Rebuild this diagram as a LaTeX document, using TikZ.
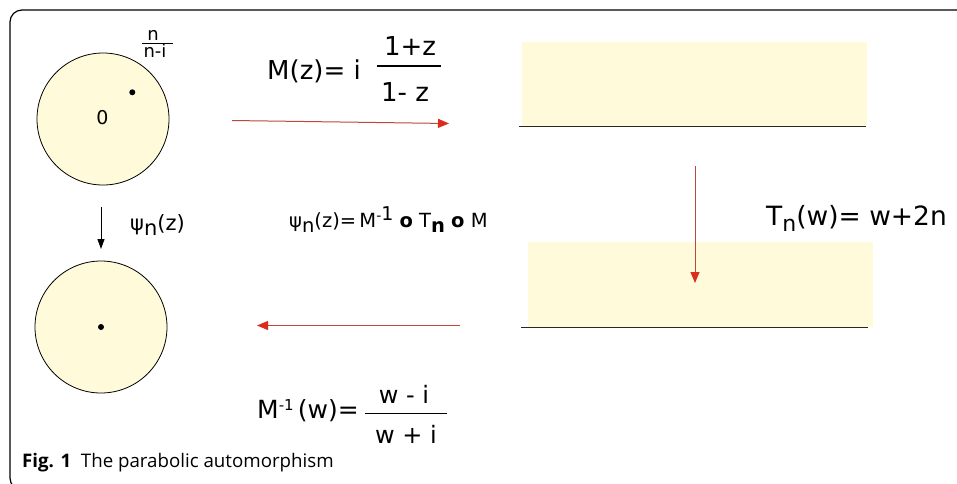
\documentclass[tikz,border=0pt]{standalone}
\usepackage{fontspec}
\setmainfont{DejaVu Sans}
\newfontfamily\capfont{Open Sans}
\usetikzlibrary{arrows.meta}
\definecolor{diskfill}{RGB}{254,250,218}
\definecolor{arrred}{RGB}{190,72,60}
\definecolor{headred}{RGB}{218,45,30}
\tikzset{
  disk/.style={circle, draw=black, line width=0.8pt, fill=diskfill, minimum size=132pt, inner sep=0pt},
  dotmark/.style={circle, fill=black, minimum size=6pt, inner sep=0pt},
  strip/.style={fill=diskfill, draw=none},
  edgeline/.style={line width=1.3pt, draw=black!85},
  redarrow/.style={draw=arrred, line width=1pt, -{Triangle[length=11pt,width=9pt,color=headred,fill=headred]}},
  blackarrow/.style={draw=black, line width=1pt, -{Triangle[length=10pt,width=7pt]}},
  txt/.style={inner sep=0pt, anchor=base west},
  ctxt/.style={inner sep=0pt, anchor=base},
}
\begin{document}
\begin{tikzpicture}[x=1pt,y=-1pt]
\useasboundingbox (0,0) rectangle (957,483);
\fill[white] (0,0) rectangle (957,483);
% frame
\draw[line width=1.2pt, rounded corners=12pt] (980,10) -- (10,10) -- (10,490) -- (980,490);

% disks
\node[disk] (d1) at (103,119) {};
\node[disk] (d2) at (101,327) {};
\node[dotmark] (p1) at (132.3,92.3) {};
\node[dotmark] (p2) at (101,327) {};
\node[ctxt] (zero) at (102.5,124.5) {\fontsize{19}{22}\selectfont 0};

% n/(n-i)
\node[ctxt] (fn) at (153,40) {\fontsize{18}{20}\selectfont n};
\node[ctxt] (fd) at (155,57) {\fontsize{18}{20}\selectfont n-i};
\coordinate (fb1) at (142,43.5);
\coordinate (fb2) at (173,43.5);
\draw[line width=0.7pt] (fb1) -- (fb2);

% strips
\fill[strip] (522,42) rectangle (867,126);
\coordinate (l1a) at (519,126.5);
\coordinate (l1b) at (866,126.5);
\draw[edgeline] (l1a) -- (l1b);
\fill[strip] (528,242) rectangle (873,327);
\coordinate (l2a) at (521,327.5);
\coordinate (l2b) at (868,327.5);
\draw[edgeline] (l2a) -- (l2b);

% arrows
\coordinate (a1s) at (232,120.5);
\coordinate (a1e) at (449,123.5);
\draw[redarrow] (a1s) -- (a1e);
\coordinate (a2s) at (695,166);
\coordinate (a2e) at (695,283);
\draw[redarrow] (a2s) -- (a2e);
\coordinate (a3s) at (460,325.5);
\coordinate (a3e) at (257,325.5);
\draw[redarrow] (a3s) -- (a3e);
\coordinate (a4s) at (101,207);
\coordinate (a4e) at (101,249);
\draw[blackarrow] (a4s) -- (a4e);

% M(z) formula
\node[txt] (mz) at (267,79) {\fontsize{26}{30}\selectfont M(z)=\ i};
\node[ctxt] (mzn) at (410,55) {\fontsize{26}{30}\selectfont 1+z};
\node[ctxt] (mzd) at (405,101) {\fontsize{26}{30}\selectfont 1-\ z};
\coordinate (mb1) at (377,66);
\coordinate (mb2) at (441,66);
\draw[line width=1.2pt] (mb1) -- (mb2);

% T_n formula
\node[txt] (tn) at (766,225) {\fontsize{26.5}{30}\selectfont T\raisebox{-6pt}{\fontsize{22}{26}\selectfont n}(w)=\ w+2n};

% psi composition
\node[txt] (psi) at (289,227) {\fontsize{19.5}{23}\selectfont ψ\raisebox{-5pt}{n}(z)=\,M\raisebox{7pt}{\fontsize{14}{16}\selectfont -\fontsize{19}{21}\selectfont 1}\ \textbf{o}\ T\raisebox{-5pt}{\textbf{n}}\ \textbf{o}\ M};

% psi_n(z) label
\node[txt] (psil) at (130,230) {\fontsize{21}{24}\selectfont ψ\raisebox{-5pt}{n}(z)};

% M^-1 formula
\node[txt] (mi) at (257,418) {\fontsize{25}{29}\selectfont M\raisebox{8pt}{\fontsize{15}{17}\selectfont -1}\,(w)=};
\node[ctxt] (min) at (404,403) {\fontsize{24}{28}\selectfont w\ -\ i};
\node[ctxt] (mid) at (406,443) {\fontsize{24}{28}\selectfont w\ +\ i};
\coordinate (ib1) at (365,413.5);
\coordinate (ib2) at (447,413.5);
\draw[line width=1.2pt] (ib1) -- (ib2);

% caption
\node[txt] (cap) at (22,467) {\capfont\fontsize{18.7}{22}\selectfont \textbf{Fig. 1}\ \ The parabolic automorphism};
\end{tikzpicture}
\end{document}
